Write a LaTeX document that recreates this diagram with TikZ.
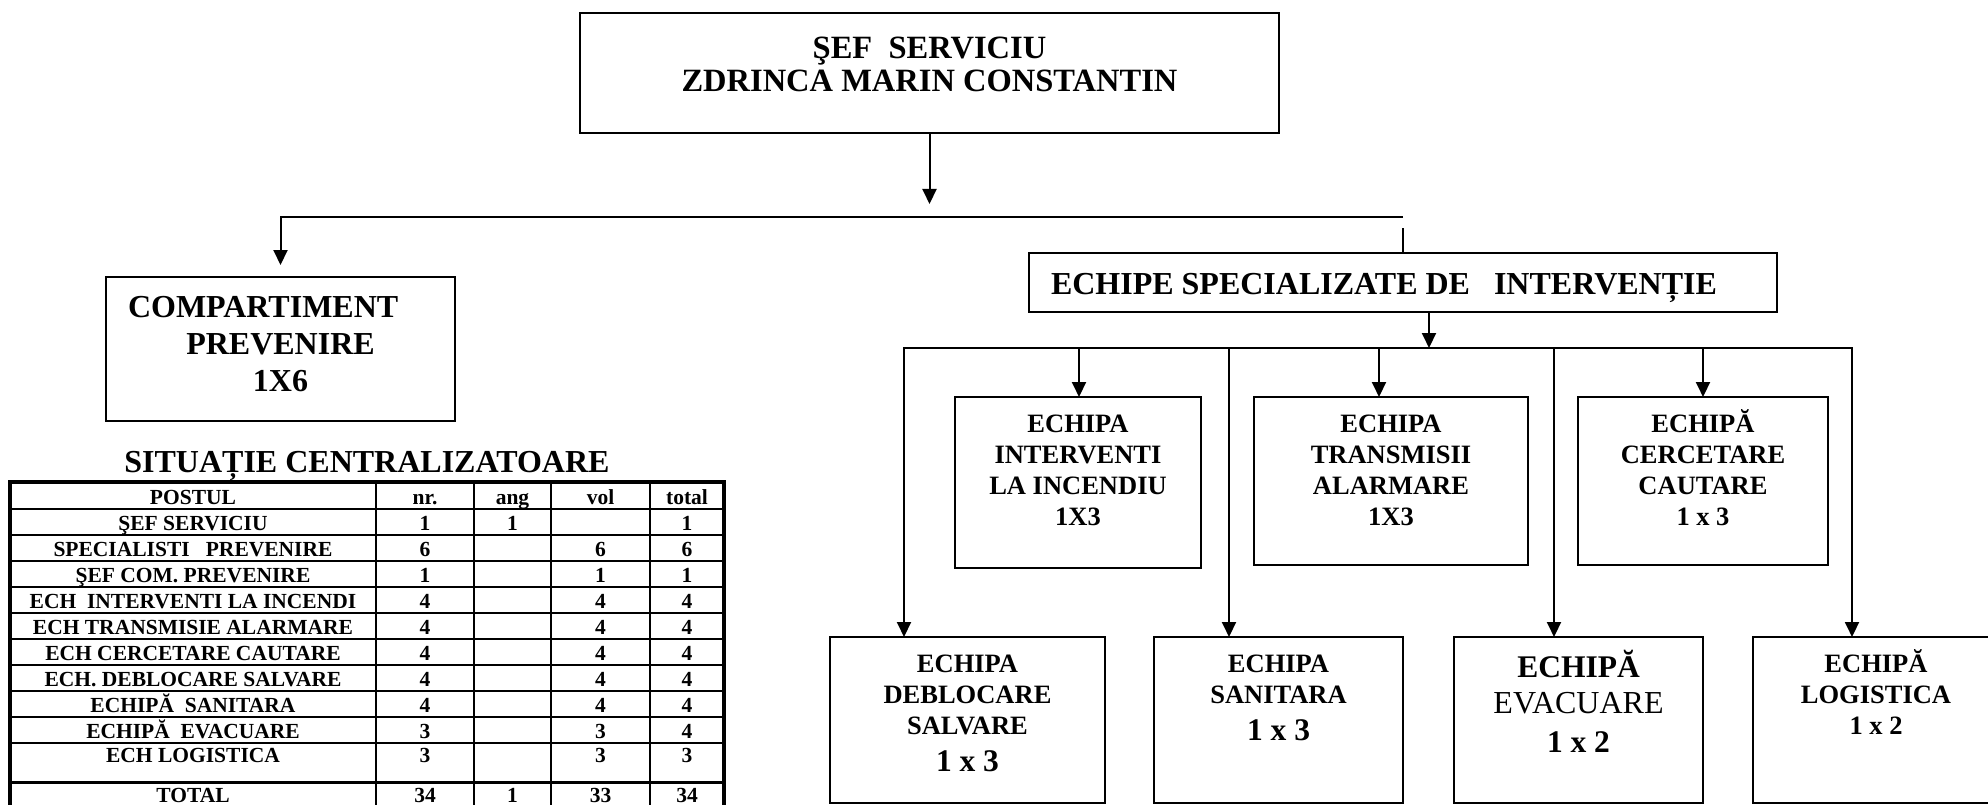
\documentclass[tikz,border=0pt]{standalone}
\usepackage{fontspec}
\setmainfont{Liberation Serif}
\usetikzlibrary{arrows.meta}
\newcommand\fs[2]{\fontsize{#1}{#2}\selectfont\bfseries}
\newcommand\mlines[1]{\begin{tabular}[t]{@{}c@{}}#1\end{tabular}}
\newcommand\trow[7]{%
  \node[tab] (r#1a) at (193,#2) {#3};
  \node[tab] (r#1b) at (425,#2) {#4};
  \node[tab] (r#1c) at (512.5,#2) {#5};
  \node[tab] (r#1d) at (600.5,#2) {#6};
  \node[tab] (r#1e) at (687,#2) {#7};}
\begin{document}
\begin{tikzpicture}[x=1pt,y=-1pt,
  box/.style={draw, line width=2pt, rectangle, inner sep=0pt, outer sep=0pt},
  arr/.style={line width=2pt, -{Triangle[width=14pt,length=15pt]}},
  ln/.style={line width=2pt},
  txt/.style={anchor=base, inner sep=0pt, outer sep=0pt},
  tab/.style={font=\fs{21.5}{26}, anchor=base, inner sep=0pt, outer sep=0pt},
  tline/.style={line width=2pt},
]
\fill[white] (0,0) rectangle (1988,805);
\useasboundingbox (0,0) rectangle (1988,805);

% ---- boxes ----
\node[box, minimum width=699pt, minimum height=120pt] (boss) at (929.5,73) {};
\node[box, minimum width=349pt, minimum height=144pt] (comp) at (280.5,349) {};
\node[box, minimum width=748pt, minimum height=59pt] (esi) at (1403,282.5) {};
\node[box, minimum width=246pt, minimum height=171pt] (int) at (1078,482.5) {};
\node[box, minimum width=274pt, minimum height=168pt] (trans) at (1391,481) {};
\node[box, minimum width=250pt, minimum height=168pt] (cerc) at (1703,481) {};
\node[box, minimum width=275pt, minimum height=166pt] (deb) at (967.5,720) {};
\node[box, minimum width=249pt, minimum height=166pt] (san) at (1278.5,720) {};
\node[box, minimum width=249pt, minimum height=166pt] (evac) at (1578.5,720) {};
\node[box, minimum width=246pt, minimum height=166pt] (log) at (1876,720) {};

% ---- texts ----
\node[txt, font=\fs{32.5}{33}] (bossT) at (929.5,59) {\mlines{ŞEF~~SERVICIU\\ZDRINCA MARIN CONSTANTIN}};
\node[txt, anchor=base west, font=\fs{32}{36}] (compT1) at (128,317) {COMPARTIMENT};
\node[txt, font=\fs{32}{37.5}] (compT2) at (280.5,354) {\mlines{PREVENIRE\\1X6}};
\node[txt, anchor=base west, font=\fs{32}{36}] (esiT) at (1051,294) {ECHIPE SPECIALIZATE DE\ \ \ INTERVENȚIE};
\node[txt, font=\fs{26.5}{31}] (intT) at (1078,432) {\mlines{ECHIPA\\INTERVENTI\\LA INCENDIU\\1X3}};
\node[txt, font=\fs{26.5}{31}] (transT) at (1391,432) {\mlines{ECHIPA\\TRANSMISII\\ALARMARE\\1X3}};
\node[txt, font=\fs{26.5}{31}] (cercT) at (1703,432) {\mlines{ECHIPĂ\\CERCETARE\\CAUTARE\\1 x 3}};
\node[txt, font=\fs{26.5}{31}] (debT) at (967.5,672) {\mlines{ECHIPA\\DEBLOCARE\\SALVARE\\[6pt]{\fontsize{31.5}{36}\selectfont 1 x 3}}};
\node[txt, font=\fs{26.5}{31}] (sanT) at (1278.5,672) {\mlines{ECHIPA\\SANITARA\\[6pt]{\fontsize{31.5}{36}\selectfont 1 x 3}}};
\node[txt, font=\fs{31.5}{36}] (evacT) at (1578.5,677) {\mlines{ECHIPĂ\\{\mdseries\fontsize{32}{36}\selectfont EVACUARE}\\[3pt]1 x 2}};
\node[txt, font=\fs{26.5}{31}] (logT) at (1876,672) {\mlines{ECHIPĂ\\LOGISTICA\\1 x 2}};

% ---- connectors ----
\coordinate (bossTip) at (929.5,204);
\coordinate (busL) at (280.5,217);
\coordinate (busR) at (1403,217);
\coordinate (compTip) at (280.5,265);
\coordinate (esiIn) at (1403,228);
\coordinate (esiTip) at (1429,348);
\coordinate (v1) at (904,348);
\coordinate (v2) at (1229,348);
\coordinate (v3) at (1554,348);
\coordinate (v4) at (1852,348);
\coordinate (s1) at (1079,348);
\coordinate (s2) at (1379,348);
\coordinate (s3) at (1703,348);

\draw[arr] (boss.south) -- (bossTip);
\draw[arr] (busR) -- (busL) -- (compTip);
\draw[ln] (esiIn) -- (esi.north);
\draw[arr] (esi.south -| esiTip) -- (esiTip);
\draw[ln, line cap=rect] (v1) -- (v4);
\draw[arr] (v1) -- (v1 |- deb.north);
\draw[arr] (v2) -- (v2 |- san.north);
\draw[arr] (v3) -- (v3 |- evac.north);
\draw[arr] (v4) -- (v4 |- log.north);
\draw[arr] (s1) -- (s1 |- int.north);
\draw[arr] (s2) -- (s2 |- trans.north);
\draw[arr] (s3) -- (s3 |- cerc.north);

% ---- table ----
\node[txt, font=\fs{32}{36}] (title) at (367,472) {SITUAȚIE CENTRALIZATOARE};
\foreach \xx in {376,474,551,650} \draw[tline] (\xx,482) -- (\xx,815);
\foreach \yy in {509,535,561,587,613,639,665,691,717,743} \draw[tline] (10,\yy) -- (724,\yy);
\draw[line width=3pt] (10,782) -- (724,782);
\draw[line width=3.5pt] (10,482) rectangle (724,815);

\trow{0}{504}{POSTUL}{nr.}{ang}{vol}{total}
\trow{1}{530}{ŞEF SERVICIU}{1}{1}{}{1}
\trow{2}{556}{SPECIALISTI\ \ \ PREVENIRE}{6}{}{6}{6}
\trow{3}{582}{ŞEF COM. PREVENIRE}{1}{}{1}{1}
\trow{4}{608}{ECH\ \ INTERVENTI LA INCENDI}{4}{}{4}{4}
\trow{5}{634}{ECH TRANSMISIE ALARMARE}{4}{}{4}{4}
\trow{6}{660}{ECH CERCETARE CAUTARE}{4}{}{4}{4}
\trow{7}{686}{ECH. DEBLOCARE SALVARE}{4}{}{4}{4}
\trow{8}{712}{ECHIPĂ\ \ SANITARA}{4}{}{4}{4}
\trow{9}{738}{ECHIPĂ\ \ EVACUARE}{3}{}{3}{4}
\trow{10}{762}{ECH LOGISTICA}{3}{}{3}{3}
\trow{11}{802}{TOTAL}{34}{1}{33}{34}
\end{tikzpicture}
\end{document}
